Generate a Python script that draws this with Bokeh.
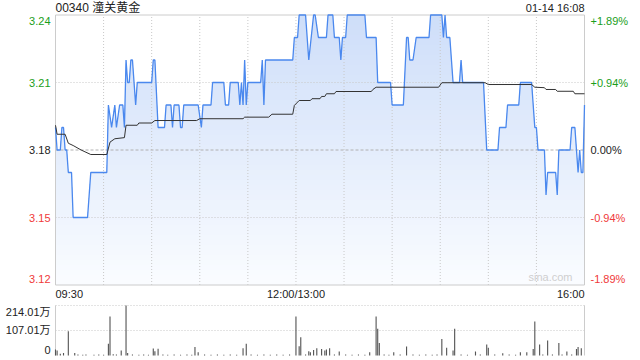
import numpy as np
from bokeh.plotting import figure
from bokeh.layouts import column
from bokeh.models import Range1d
from bokeh.core.properties import value
from bokeh.embed import file_html
from bokeh.resources import INLINE

# ---------------- data ----------------
stock_title = "00340 潼关黄金"
stamp = "01-14 16:08"
prev_close = 3.18
price_ticks = [3.24, 3.21, 3.18, 3.15, 3.12]
pct_labels = ["+1.89%", "+0.94%", "0.00%", "-0.94%", "-1.89%"]
time_ticks = [0, 150, 330]
time_labels = ["09:30", "12:00/13:00", "16:00"]
grid_minutes = [30, 60, 90, 120, 150, 180, 210, 240, 270, 300]
vol_ticks = [214.01, 107.01, 0]
vol_labels = ["214.01万", "107.01万", "0"]

# price (minutes after 09:30, lunch break removed)
price_t = [0, 1, 3, 4, 5, 6, 7, 8, 10, 11, 20, 22, 32, 33, 35, 37, 38, 40, 42, 43,
           44, 45, 46, 47, 48, 50, 51, 60, 61, 62, 64, 68, 69, 72, 73, 74, 77, 78, 79, 80,
           89, 91, 92, 97, 98, 105, 106, 108, 109, 114, 115, 116, 117, 118, 119, 120, 128, 129, 130, 131,
           148, 149, 151, 152, 156, 158, 161, 162, 164, 169, 170, 173, 174, 177, 178, 179, 181, 182, 193, 194,
           200, 201, 209, 210, 217, 219, 220, 221, 223, 225, 233, 234, 241, 242, 243, 244, 246, 248, 252, 253,
           254, 267, 269, 276, 277, 281, 282, 289, 290, 297, 299, 300, 301, 305, 306, 307, 312, 313, 314, 321,
           322, 324, 325, 326, 327, 328, 329, 330]
price_v = [3.19, 3.18, 3.18, 3.19, 3.19, 3.18, 3.18, 3.17, 3.17, 3.15, 3.15, 3.17, 3.17, 3.20, 3.19, 3.20, 3.19, 3.20, 3.20, 3.19,
           3.22, 3.21, 3.21, 3.22, 3.22, 3.20, 3.21, 3.21, 3.22, 3.22, 3.19, 3.19, 3.20, 3.20, 3.19, 3.20, 3.20, 3.19, 3.19, 3.20,
           3.20, 3.19, 3.20, 3.20, 3.21, 3.21, 3.20, 3.20, 3.21, 3.21, 3.20, 3.21, 3.20, 3.22, 3.20, 3.21, 3.21, 3.22, 3.20, 3.22,
           3.22, 3.23, 3.23, 3.24, 3.24, 3.22, 3.24, 3.24, 3.23, 3.23, 3.24, 3.24, 3.23, 3.23, 3.22, 3.23, 3.23, 3.24, 3.24, 3.23,
           3.23, 3.21, 3.21, 3.20, 3.20, 3.23, 3.23, 3.22, 3.22, 3.23, 3.23, 3.24, 3.24, 3.23, 3.24, 3.23, 3.23, 3.21, 3.21, 3.22,
           3.21, 3.21, 3.18, 3.18, 3.19, 3.19, 3.20, 3.20, 3.21, 3.21, 3.19, 3.19, 3.18, 3.18, 3.16, 3.17, 3.17, 3.16, 3.18, 3.18,
           3.19, 3.19, 3.18, 3.17, 3.18, 3.17, 3.17, 3.20]

avg_t = [0, 1, 6, 8, 11, 16, 22, 32, 34, 37, 43, 44, 51, 52, 60, 62, 88, 90, 117, 118,
         133, 135, 148, 149, 152, 159, 160, 165, 166, 168, 169, 174, 175, 197, 198, 200, 239, 241, 268, 270,
         297, 299, 305, 306, 312, 313, 323, 324, 330]
avg_v = [3.191, 3.187, 3.187, 3.183, 3.182, 3.180, 3.178, 3.178, 3.1835, 3.185, 3.1855, 3.191, 3.191, 3.192, 3.192, 3.1931, 3.1931, 3.1939, 3.1939, 3.1946,
         3.1946, 3.1959, 3.1959, 3.1998, 3.202, 3.202, 3.2028, 3.2028, 3.2038, 3.2038, 3.205, 3.205, 3.206, 3.206, 3.2069, 3.2079, 3.2079, 3.2099, 3.2099, 3.2091,
         3.2091, 3.2079, 3.2077, 3.2069, 3.2069, 3.2061, 3.2061, 3.205, 3.205]

# volume (万)
vol_t = [0, 1, 3, 5, 8, 12, 14, 17, 19, 24, 27, 30, 33, 34, 36, 38, 41, 44, 45, 48,
         52, 55, 58, 61, 62, 64, 67, 70, 74, 78, 82, 85, 87, 89, 93, 97, 101, 105, 109, 113,
         117, 119, 122, 126, 130, 134, 138, 142, 146, 150, 152, 153, 156, 158, 159, 161, 163, 166, 168, 169,
         171, 174, 177, 181, 185, 189, 193, 196, 200, 201, 202, 205, 208, 211, 215, 219, 223, 227, 231, 235,
         238, 241, 244, 248, 249, 253, 257, 262, 265, 269, 270, 274, 279, 283, 287, 290, 294, 298, 299, 302,
         304, 307, 310, 314, 316, 319, 322, 325, 326, 328]
vol_v = [26, 21, 7, 11, 104, 11, 4, 3, 4, 3, 4, 3, 50, 167, 5, 4, 21, 214.01, 11, 4,
         3, 4, 3, 30, 18, 29, 4, 3, 4, 3, 4, 3, 36, 14, 4, 3, 4, 3, 4, 3,
         31, 50, 4, 3, 4, 3, 4, 3, 4, 167, 40, 78, 4, 18, 14, 24, 31, 28, 21, 26,
         31, 4, 17, 4, 3, 4, 3, 14, 167, 114, 53, 4, 3, 14, 4, 38, 4, 3, 4, 3,
         4, 71, 33, 21, 114, 4, 3, 17, 4, 47, 33, 4, 10, 4, 3, 14, 14, 28, 145, 47,
         4, 64, 4, 53, 4, 17, 4, 28, 36, 31]

# ---------------- layout / style ----------------
FONT = value("Liberation Sans, Noto Sans CJK SC")
FS = value("11px")
GREEN = "#1a9e1a"
RED = "#f03a3a"
DARK = "#222222"
GRID = "#c8c8c8"
BORDER = "#cccccc"
X0, X1 = 0, 330

W = 640
PAD_L, PAD_R = 55, 56            # pixels around the plotting box
P_H, P_TOP, P_BOT = 302, 14.5, 17.5
V_H, V_TOP, V_BOT = 58, 3, 5

hi = price_ticks[0]
lo = price_ticks[-1]

ppm = (W - PAD_L - PAD_R) / (X1 - X0)          # px per minute
xr = (X0 - PAD_L / ppm, X1 + PAD_R / ppm)
ppu = (P_H - P_TOP - P_BOT) / (hi - lo)         # px per price unit
yr = (lo - P_BOT / ppu, hi + P_TOP / ppu)


def tick_color(t):
    if t > prev_close + 1e-9:
        return GREEN
    if t < prev_close - 1e-9:
        return RED
    return DARK


p = figure(width=W, height=P_H, x_range=Range1d(*xr), y_range=Range1d(*yr),
           x_axis_location=None, y_axis_location=None, toolbar_location=None,
           output_backend="svg", min_border=0, title=None)
p.grid.grid_line_color = None
p.outline_line_color = None
p.background_fill_color = "white"
p.border_fill_color = "white"

# gradient fill under the price line (stacked bands, top colour first)
pv = np.array(price_v)
top_rgb = np.array([206, 222, 249])
bot_rgb = np.array([250, 252, 255])
n_bands = 54
for i in range(n_bands, 0, -1):
    cap = lo + (hi - lo) * i / n_bands
    frac = (i - 0.5) / n_bands
    rgb = (bot_rgb + (top_rgb - bot_rgb) * frac).round().astype(int)
    col = "#%02x%02x%02x" % tuple(rgb)
    p.varea(x=price_t, y1=np.full(len(pv), lo), y2=np.minimum(pv, cap),
            fill_color=col, fill_alpha=1.0)

# grid lines
p.segment(x0=grid_minutes, x1=grid_minutes, y0=lo, y1=hi,
          line_color=GRID, line_width=1, line_dash="1 2")
inner = [t for t in price_ticks if t not in (lo, hi, prev_close)]
p.segment(x0=X0, x1=X1, y0=inner, y1=inner, line_color=GRID, line_width=1, line_dash="1 2")
p.segment(x0=[X0], x1=[X1], y0=[prev_close], y1=[prev_close],
          line_color="#b0b0b0", line_width=1, line_dash="3 2")
# box
p.segment(x0=[X0, X1, X0, X0], x1=[X0, X1, X1, X1], y0=[lo, lo, lo, hi], y1=[hi, hi, lo, hi],
          line_color=BORDER, line_width=1)

p.line(price_t, price_v, line_color="#4a88ee", line_width=1.3)
p.line(avg_t, avg_v, line_color="#333333", line_width=1)

# tick labels
n = len(price_ticks)
cols = [tick_color(t) for t in price_ticks]
p.text(x=[X0] * n, y=price_ticks, text=["%.2f" % t for t in price_ticks],
       text_align="right", text_baseline="middle", text_color=cols,
       text_font=FONT, text_font_size=FS, x_offset=-5,
       y_offset=[6, 0, 0, 0, -6])
p.text(x=[X1] * n, y=price_ticks, text=pct_labels,
       text_align="left", text_baseline="middle", text_color=cols,
       text_font=FONT, text_font_size=FS, x_offset=6,
       y_offset=[6, 0, 0, 0, -6])
p.text(x=time_ticks, y=[lo] * 3, text=time_labels,
       text_align=["left", "center", "right"], text_baseline="middle",
       text_color=DARK, text_font=FONT, text_font_size=FS, y_offset=9)
p.text(x=[X0], y=[hi], text=[stock_title], text_align="left", text_baseline="middle",
       text_color=DARK, text_font=FONT, text_font_size=value("12px"), y_offset=-7)
p.text(x=[X1], y=[hi], text=[stamp], text_align="right", text_baseline="middle",
       text_color=DARK, text_font=FONT, text_font_size=FS, y_offset=-7)
p.text(x=[X1], y=[lo], text=["sina.com"], text_align="right", text_baseline="bottom",
       text_color="#cfcfcf", text_font=FONT, text_font_size=FS, x_offset=-12, y_offset=-2)

# ---------------- volume ----------------
vmax = vol_ticks[0]
vppu = (V_H - V_TOP - V_BOT) / vmax
vyr = (0 - V_BOT / vppu, vmax + V_TOP / vppu)
v = figure(width=W, height=V_H, x_range=Range1d(*xr), y_range=Range1d(*vyr),
           x_axis_location=None, y_axis_location=None, toolbar_location=None,
           output_backend="svg", min_border=0, title=None)
v.grid.grid_line_color = None
v.outline_line_color = None
v.background_fill_color = "white"
v.border_fill_color = "white"

v.segment(x0=X0, x1=X1, y0=vol_ticks[:2], y1=vol_ticks[:2],
          line_color=GRID, line_width=1, line_dash="1 2")
v.segment(x0=[X0, X1], x1=[X0, X1], y0=0, y1=vmax, line_color=BORDER, line_width=1)
v.vbar(x=vol_t, top=vol_v, width=0.7, fill_color="#555555", line_color=None)

v.text(x=[X0] * 3, y=vol_ticks, text=vol_labels, text_align="right", text_baseline="middle",
       text_color=DARK, text_font=FONT, text_font_size=FS, x_offset=-5,
       y_offset=[6, 0, -6])

layout = column(p, v, spacing=0)
open("out.html", "w").write(file_html(layout, INLINE))
